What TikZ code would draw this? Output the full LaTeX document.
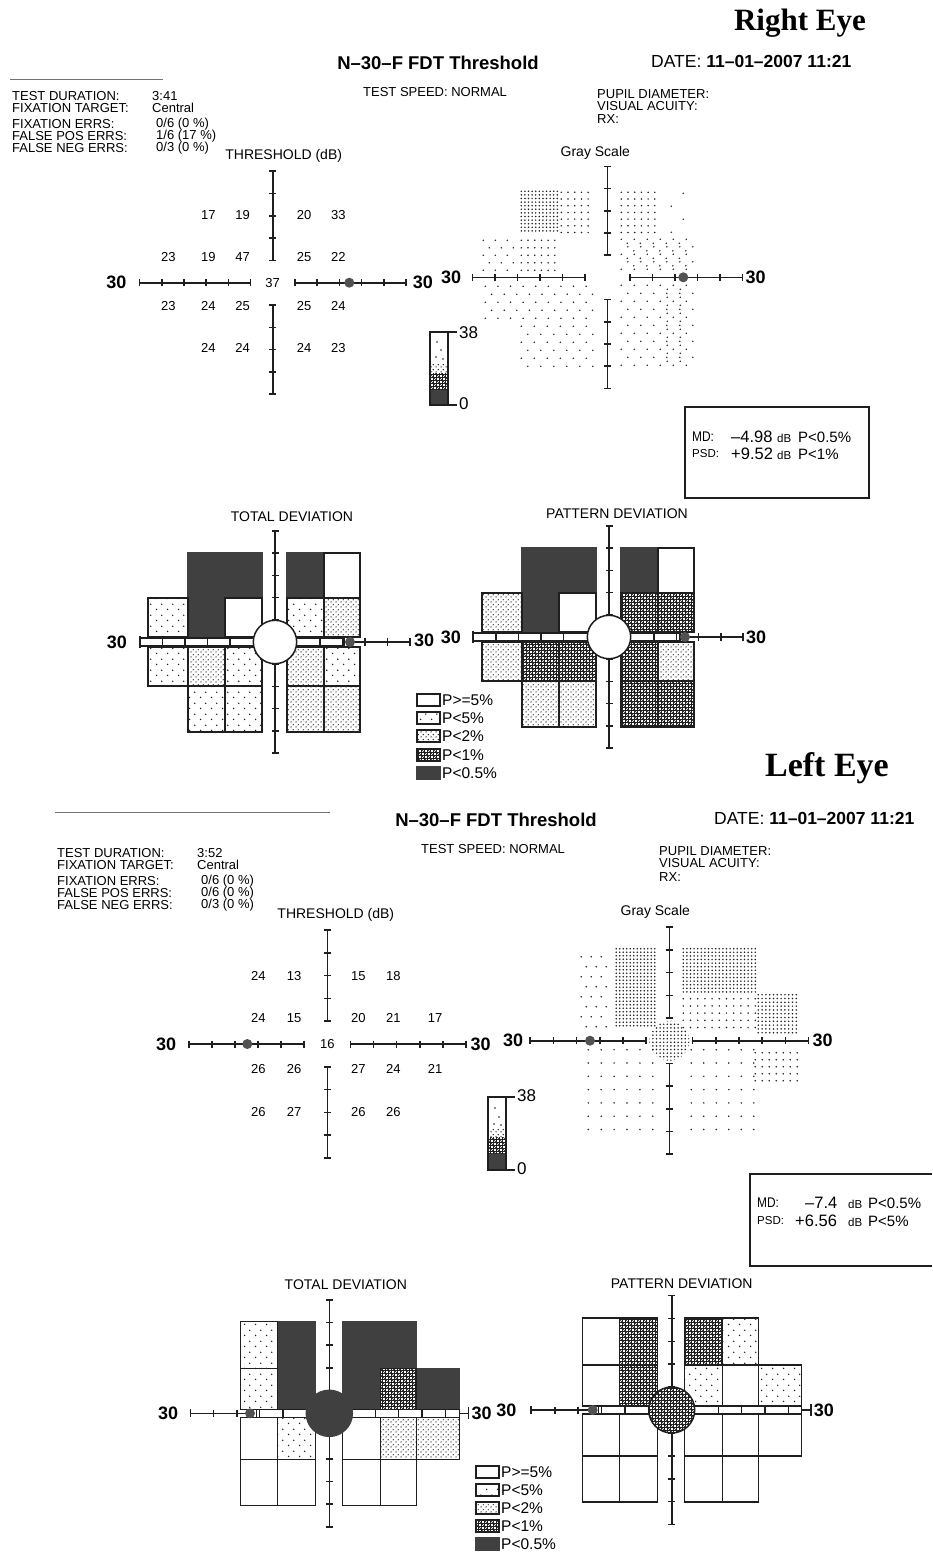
\documentclass[tikz,border=0pt]{standalone}
\usepackage{fontspec}
\setmainfont{Liberation Sans}
\newfontfamily\eyefont{Liberation Serif}
\newfontfamily\condfont[FakeStretch=0.85]{Liberation Sans}
\usetikzlibrary{patterns}

\definecolor{ink}{gray}{0.12}
\definecolor{darkcell}{gray}{0.25}
\definecolor{spotgray}{gray}{0.32}
\definecolor{rulegray}{gray}{0.45}

% patterns of the probability maps
\pgfdeclarepatternformonly{pfive}{\pgfqpoint{0pt}{0pt}}{\pgfqpoint{11pt}{11pt}}{\pgfqpoint{11pt}{11pt}}{%
  \pgfpathcircle{\pgfqpoint{2.75pt}{2.75pt}}{0.85pt}%
  \pgfpathcircle{\pgfqpoint{8.25pt}{8.25pt}}{0.85pt}%
  \pgfusepath{fill}}
\pgfdeclarepatternformonly{ptwo}{\pgfqpoint{0pt}{0pt}}{\pgfqpoint{5pt}{5pt}}{\pgfqpoint{5pt}{5pt}}{%
  \pgfpathcircle{\pgfqpoint{1.25pt}{1.25pt}}{0.8pt}%
  \pgfpathcircle{\pgfqpoint{3.75pt}{3.75pt}}{0.8pt}%
  \pgfusepath{fill}}
\pgfdeclarepatternformonly{pone}{\pgfqpoint{-0.5pt}{-0.5pt}}{\pgfqpoint{6.5pt}{6.5pt}}{\pgfqpoint{6pt}{6pt}}{%
  \pgfsetlinewidth{0.6pt}%
  \pgfpathmoveto{\pgfqpoint{0pt}{1.5pt}}\pgfpathlineto{\pgfqpoint{6pt}{1.5pt}}%
  \pgfpathmoveto{\pgfqpoint{0pt}{4.5pt}}\pgfpathlineto{\pgfqpoint{6pt}{4.5pt}}%
  \pgfpathmoveto{\pgfqpoint{1.5pt}{0pt}}\pgfpathlineto{\pgfqpoint{1.5pt}{6pt}}%
  \pgfpathmoveto{\pgfqpoint{4.5pt}{0pt}}\pgfpathlineto{\pgfqpoint{4.5pt}{6pt}}%
  \pgfpathmoveto{\pgfqpoint{0pt}{6pt}}\pgfpathlineto{\pgfqpoint{6pt}{0pt}}%
  \pgfusepath{stroke}}

% axes cut open round the centre: #1 horizontal step, #2 vertical step
\newcommand{\splitaxes}[2]{%
  \draw[axis] (-6*#1,0) -- (-#1,0) (#1,0) -- (6*#1,0)
    (0,-5*#2) -- (0,-#2) (0,#2) -- (0,5*#2);
  \foreach \k in {1,...,6}{\draw[axis] (-\k*#1,-3.5) -- (-\k*#1,3.5) (\k*#1,-3.5) -- (\k*#1,3.5);}
  \foreach \k in {1,...,5}{\draw[axis] (-3.5,-\k*#2) -- (3.5,-\k*#2) (-3.5,\k*#2) -- (3.5,\k*#2);}}

% full vertical axis of the deviation maps: #1 step
\newcommand{\devaxis}[1]{%
  \draw[axis] (0,-5*#1) -- (0,5*#1);
  \foreach \k in {-5,...,5}{\draw[axis] (-3.5,\k*#1) -- (3.5,\k*#1);}}

% grey scale dots: x0, y0, columns-1, rows-1, dx, dy
\newcommand{\dotgrid}[6]{%
  \foreach \i in {0,...,#3}{\foreach \j in {0,...,#4}{%
    \fill[ink] ({#1+\i*#5},{#2+\j*#6}) circle (0.85);}}}
\newcommand{\dotstag}[6]{%
  \foreach \i in {0,...,#3}{\foreach \j in {0,...,#4}{%
    \pgfmathsetmacro{\sx}{#1+\i*#5+mod(\j,2)*#5/2}%
    \fill[ink] (\sx,{#2+\j*#6}) circle (0.85);}}}

\begin{document}
\begin{tikzpicture}[x=1pt, y=-1pt,
    hdr/.style={anchor=west, inner sep=0pt, font=\fontsize{13}{13}\selectfont},
    bigttl/.style={inner sep=0pt, font=\bfseries\fontsize{18.5}{18.5}\selectfont},
    datettl/.style={anchor=west, inner sep=0pt, font=\fontsize{17.5}{17.5}\selectfont},
    mapttl/.style={inner sep=0pt, font=\fontsize{14}{14}\selectfont},
    num/.style={inner sep=0pt, font=\fontsize{13}{13}\selectfont},
    edge30/.style={inner sep=0pt, font=\bfseries\fontsize{18}{18}\selectfont},
    eyelbl/.style={anchor=east, inner sep=0pt, font=\eyefont\bfseries\fontsize{31}{31}\selectfont},
    axis/.style={draw=ink, line width=1.6pt},
    band/.style={draw=ink, line width=1.1pt, fill=white},
    spot/.style={fill=spotgray},
    cellw/.style={draw=ink, line width=1.5pt, fill=white},
    cellp5/.style={draw=ink, line width=1.5pt, pattern=pfive, pattern color=ink},
    cellp2/.style={draw=ink, line width=1.5pt, pattern=ptwo, pattern color=ink},
    cellp1/.style={draw=ink, line width=1.5pt, pattern=pone, pattern color=ink},
    celld/.style={draw=darkcell, line width=1.5pt, fill=darkcell},
    legtxt/.style={anchor=west, inner sep=0pt, font=\fontsize{15.5}{15.5}\selectfont},
    mdlbl/.style={anchor=west, inner sep=0pt, font=\condfont\fontsize{14}{14}\selectfont},
    mdtxt/.style={anchor=west, inner sep=0pt, font=\fontsize{15}{15}\selectfont},
    mdbig/.style={anchor=west, inner sep=0pt, font=\fontsize{16.5}{16.5}\selectfont},
    mdsmall/.style={anchor=west, inner sep=0pt, font=\fontsize{11.5}{11.5}\selectfont},
    scaletxt/.style={anchor=west, inner sep=0pt, font=\fontsize{17}{17}\selectfont}
  ]

  \fill[white] (0,0) rectangle (932,1558);
  \useasboundingbox (0,0) rectangle (932,1558);

  % ===================== RIGHT EYE =====================
  \node[eyelbl] (reEye) at (866,23) {Right Eye};

  % --- header ---
  \draw[rulegray, line width=1pt] (10,79) -- (163,79);
  \node[hdr] (reDur) at (12,96) {TEST DURATION:};
  \node[hdr] (reDurV) at (152,96) {3:41};
  \node[hdr] (reFix) at (12,108) {FIXATION TARGET:};
  \node[hdr] (reFixV) at (152,108) {Central};
  \node[hdr] (reFe) at (12,124) {FIXATION ERRS:};
  \node[hdr] (reFeV) at (156,124) {0/6 (0 \%)};
  \node[hdr] (reFp) at (12,136) {FALSE POS ERRS:};
  \node[hdr] (reFpV) at (156,136) {1/6 (17 \%)};
  \node[hdr] (reFn) at (12,148) {FALSE NEG ERRS:};
  \node[hdr] (reFnV) at (156,148) {0/3 (0 \%)};
  \node[bigttl] (reTest) at (438,63) {N–30–F FDT Threshold};
  \node[hdr] (reSpeed) at (363,92) {TEST SPEED: NORMAL};
  \node[datettl] (reDate) at (651,61) {DATE: \textbf{11–01–2007 11:21}};
  \node[hdr] (rePupil) at (597,94) {PUPIL DIAMETER:};
  \node[hdr] (reAcuity) at (597,106) {VISUAL ACUITY:};
  \node[hdr] (reRx) at (597,119) {RX:};

  % --- threshold ---
  \begin{scope}[shift={(272.7,282.7)}]
    \node[mapttl] (reThrT) at (11,-126.5) {THRESHOLD (dB)};
    \splitaxes{22.2}{22.3}
    \fill[spot] (76.6,0) circle (5);
    \node[edge30, anchor=east] (reThrL) at (-146,0) {30};
    \node[edge30, anchor=west] (reThrR) at (140,0) {30};
    \foreach \px/\py/\v [count=\n] in {-64.4/-67.7/17, -30/-67.7/19, 31.3/-67.7/20, 65.6/-67.7/33,
        -104.4/-26/23, -64.4/-26/19, -30/-26/47, 31.3/-26/25, 65.6/-26/22, 0/0/37,
        -104.4/23.3/23, -64.4/23.3/24, -30/23.3/25, 31.3/23.3/25, 65.6/23.3/24,
        -64.4/65.6/24, -30/65.6/24, 31.3/65.6/24, 65.6/65.6/23}
      \node[num] (reT\n) at (\px,\py) {\v};
  \end{scope}

  % --- grey scale ---
  \begin{scope}[shift={(607.3,277.3)}]
    \node[mapttl] (reGrayT) at (-12,-124) {Gray Scale};
    \dotgrid{-86}{-86}{10}{11}{3.6}{3.6}
    \dotgrid{-46}{-85}{4}{6}{6.7}{6.7}
    \dotstag{-124}{-37}{2}{4}{12}{7.5}
    \dotgrid{-86}{-37}{5}{4}{6.7}{7.5}
    \dotstag{-122}{9}{8}{4}{12.6}{8}
    \dotstag{-86}{49}{5}{5}{13}{8}
    \dotgrid{14}{-85}{5}{6}{6.7}{6.7}
    \foreach \px/\py in {76/-84, 64/-71, 76/-58, 64/-45}
      \fill[ink] (\px,\py) circle (0.85);
    \dotstag{14}{-38}{5}{4}{13}{7.5}
    \dotstag{20}{-34}{4}{3}{13}{7.5}
    \dotstag{14}{8}{5}{10}{13}{8}
    \dotgrid{60}{12}{1}{9}{13}{8}
    \splitaxes{22.5}{22.2}
    \fill[spot] (76,0) circle (5);
    \node[edge30, anchor=east] (reGrayL) at (-146,0) {30};
    \node[edge30, anchor=west] (reGrayR) at (138,0) {30};
  \end{scope}

  % --- grey scale bar ---
  \fill[darkcell] (430,389) rectangle (448,405);
  \fill[pattern=pone, pattern color=ink] (430,373) rectangle (448,389);
  \fill[pattern=ptwo, pattern color=ink] (430,364) rectangle (448,373);
  \foreach \px/\py in {437/342, 441/350, 436/357, 443/359}
    \fill[ink] (\px,\py) circle (0.85);
  \draw[ink, line width=1.4pt] (430,332) rectangle (448,405)
    (448,332) -- (457,332) (448,405) -- (457,405);
  \node[scaletxt] (reBarTop) at (459,333) {38};
  \node[scaletxt] (reBarBot) at (459,404) {0};

  % --- MD / PSD ---
  \draw[ink, line width=1.3pt] (685,407) rectangle (869,498);
  \node[mdlbl] (reMd) at (692,437) {MD:};
  \node[mdbig] (reMdV) at (731,437) {–4.98};
  \node[mdsmall] (reMdU) at (777,438) {dB};
  \node[mdtxt] (reMdP) at (798,437) {P<0.5\%};
  \node[mdsmall] (rePsd) at (692,454) {PSD:};
  \node[mdbig] (rePsdV) at (731,454) {+9.52};
  \node[mdsmall] (rePsdU) at (777,455) {dB};
  \node[mdtxt] (rePsdP) at (798,454) {P<1\%};

  % --- total deviation ---
  \begin{scope}[shift={(275,642)}]
    \node[mapttl] (reTotT) at (17,-125.5) {TOTAL DEVIATION};
    \devaxis{22.2}
    \draw[celld] (-87,-89) rectangle (-13,-44);
    \draw[celld] (-87,-44) rectangle (-50,-5);
    \draw[celld] (12,-89) rectangle (49,-44);
    \draw[cellw] (-50,-44) rectangle (-13,-5);
    \draw[cellw] (49,-89) rectangle (85,-44);
    \draw[cellp5] (-127,-44) rectangle (-87,-5);
    \draw[cellp5] (-127,5) rectangle (-87,44);
    \draw[cellp5] (-50,5) rectangle (-13,44);
    \draw[cellp5] (-87,44) rectangle (-50,90);
    \draw[cellp5] (-50,44) rectangle (-13,90);
    \draw[cellp5] (12,-44) rectangle (49,-5);
    \draw[cellp5] (49,5) rectangle (85,44);
    \draw[cellp2] (-87,5) rectangle (-50,44);
    \draw[cellp2] (49,-44) rectangle (85,-5);
    \draw[cellp2] (12,5) rectangle (49,44);
    \draw[cellp2] (12,44) rectangle (49,90);
    \draw[cellp2] (49,44) rectangle (85,90);
    % axis band
    \draw[band] (-135,-4) rectangle (-18,4);
    \draw[band] (18,-4) rectangle (69,4);
    \draw[axis] (71,0) -- (135,0);
    \foreach \x in {-112.5,-90,-67.5,-45,45,67.5,90,112.5}
      \draw[axis, line width=1.1pt] (\x,-4) -- (\x,4);
    \draw[axis] (-135,-6) -- (-135,6) (135,-4) -- (135,4);
    \draw[ink, line width=1.5pt, fill=white] (0,0) circle (21.7);
    \fill[spot] (75,0) circle (5);
    \node[edge30, anchor=east] (reTotL) at (-148,0) {30};
    \node[edge30, anchor=west] (reTotR) at (139,-2) {30};
  \end{scope}

  % --- pattern deviation ---
  \begin{scope}[shift={(609,637)}]
    \node[mapttl] (rePatT) at (8,-123.5) {PATTERN DEVIATION};
    \devaxis{22.2}
    \draw[celld] (-87,-89) rectangle (-13,-44);
    \draw[celld] (-87,-44) rectangle (-50,-5);
    \draw[celld] (12,-89) rectangle (49,-44);
    \draw[cellw] (-50,-44) rectangle (-13,-5);
    \draw[cellw] (49,-89) rectangle (85,-44);
    \draw[cellp2] (-127,-44) rectangle (-87,-5);
    \draw[cellp2] (-127,5) rectangle (-87,44);
    \draw[cellp2] (-87,44) rectangle (-50,90);
    \draw[cellp2] (-50,44) rectangle (-13,90);
    \draw[cellp2] (49,5) rectangle (85,44);
    \draw[cellp1] (-87,5) rectangle (-50,44);
    \draw[cellp1] (-50,5) rectangle (-13,44);
    \draw[cellp1] (12,-44) rectangle (49,-5);
    \draw[cellp1] (49,-44) rectangle (85,-5);
    \draw[cellp1] (12,5) rectangle (49,44);
    \draw[cellp1] (12,44) rectangle (49,90);
    \draw[cellp1] (49,44) rectangle (85,90);
    % axis band
    \draw[band] (-136,-4) rectangle (-18,4);
    \draw[band] (18,-4) rectangle (71,4);
    \draw[axis] (73,0) -- (134,0);
    \foreach \x in {-113,-90.5,-68,-45.5,45,67.5,89.5,112}
      \draw[axis, line width=1.1pt] (\x,-4) -- (\x,4);
    \draw[axis] (-136,-6) -- (-136,6) (134,-4) -- (134,4);
    \draw[ink, line width=1.5pt, fill=white] (0,0) circle (21.7);
    \fill[spot] (76,0) circle (5);
    \node[edge30, anchor=east] (rePatL) at (-148,0) {30};
    \node[edge30, anchor=west] (rePatR) at (137,0) {30};
  \end{scope}

  % --- legend ---
  \draw[cellw, line width=1.1pt] (417,694) rectangle (440,706);
  \draw[cellp5, line width=1.1pt] (417,712) rectangle (440,724);
  \draw[cellp2, line width=1.1pt] (417,730) rectangle (440,742);
  \draw[cellp1, line width=1.1pt] (417,749) rectangle (440,761);
  \draw[celld, line width=1.1pt] (417,767) rectangle (440,779);
  \node[legtxt] (reLegA) at (442,700) {P>=5\%};
  \node[legtxt] (reLegB) at (442,718) {P<5\%};
  \node[legtxt] (reLegC) at (442,736) {P<2\%};
  \node[legtxt] (reLegD) at (442,755) {P<1\%};
  \node[legtxt] (reLegE) at (442,773) {P<0.5\%};

  % ===================== LEFT EYE =====================
  \node[eyelbl, font=\eyefont\bfseries\fontsize{34}{34}\selectfont] (leEye) at (889,768) {Left Eye};

  % --- header ---
  \draw[rulegray, line width=1pt] (55,812) -- (330,812);
  \node[hdr] (leDur) at (57,853) {TEST DURATION:};
  \node[hdr] (leDurV) at (197,853) {3:52};
  \node[hdr] (leFix) at (57,865) {FIXATION TARGET:};
  \node[hdr] (leFixV) at (197,865) {Central};
  \node[hdr] (leFe) at (57,881) {FIXATION ERRS:};
  \node[hdr] (leFeV) at (201,881) {0/6 (0 \%)};
  \node[hdr] (leFp) at (57,893) {FALSE POS ERRS:};
  \node[hdr] (leFpV) at (201,893) {0/6 (0 \%)};
  \node[hdr] (leFn) at (57,905) {FALSE NEG ERRS:};
  \node[hdr] (leFnV) at (201,905) {0/3 (0 \%)};
  \node[bigttl] (leTest) at (496,820) {N–30–F FDT Threshold};
  \node[hdr] (leSpeed) at (421,849) {TEST SPEED: NORMAL};
  \node[datettl] (leDate) at (714,818) {DATE: \textbf{11–01–2007 11:21}};
  \node[hdr] (lePupil) at (659,851) {PUPIL DIAMETER:};
  \node[hdr] (leAcuity) at (659,863) {VISUAL ACUITY:};
  \node[hdr] (leRx) at (659,877) {RX:};

  % --- threshold ---
  \begin{scope}[shift={(327.3,1044)}]
    \node[mapttl] (leThrT) at (8.5,-129) {THRESHOLD (dB)};
    \splitaxes{23.1}{22.8}
    \fill[spot] (-80,0) circle (5);
    \node[edge30, anchor=east] (leThrL) at (-151,0) {30};
    \node[edge30, anchor=west] (leThrR) at (143,0) {30};
    \foreach \px/\py/\v [count=\n] in {-69/-68/24, -33.3/-68/13, 31/-68/15, 66/-68/18,
        -69/-25.7/24, -33.3/-25.7/15, 31/-25.7/20, 66/-25.7/21, 107.7/-25.7/17, 0/0/16,
        -69/25.3/26, -33.3/25.3/26, 31/25.3/27, 66/25.3/24, 107.7/25.3/21,
        -69/67.7/26, -33.3/67.7/27, 31/67.7/26, 66/67.7/26}
      \node[num] (leT\n) at (\px,\py) {\v};
  \end{scope}

  % --- grey scale ---
  \begin{scope}[shift={(669.3,1040.7)}]
    \node[mapttl] (leGrayT) at (-14,-129) {Gray Scale};
    \dotstag{-88}{-84}{2}{7}{10}{10}
    \dotgrid{-53}{-92}{11}{22}{3.5}{3.5}
    \begin{scope}
      \clip (0,0) circle (20);
      \dotgrid{-20}{-20}{11}{11}{3.6}{3.6}
    \end{scope}
    \dotgrid{14}{-92}{20}{12}{3.6}{3.6}
    \dotgrid{14}{-42}{10}{4}{7.2}{7.2}
    \dotgrid{89}{-46}{10}{10}{3.8}{3.8}
    \dotgrid{86}{12}{6}{4}{7}{7}
    \dotgrid{22}{9}{5}{6}{12.5}{13.3}
    \dotgrid{-81}{9}{5}{6}{12.9}{13.3}
    \splitaxes{23.2}{22.7}
    \fill[spot] (-79.3,0) circle (5);
    \node[edge30, anchor=east] (leGrayL) at (-146,0) {30};
    \node[edge30, anchor=west] (leGrayR) at (143,0) {30};
  \end{scope}

  % --- grey scale bar ---
  \fill[darkcell] (488,1153) rectangle (506,1170);
  \fill[pattern=pone, pattern color=ink] (488,1137) rectangle (506,1153);
  \fill[pattern=ptwo, pattern color=ink] (488,1128) rectangle (506,1137);
  \foreach \px/\py in {495/1108, 499/1117, 494/1124, 501/1125}
    \fill[ink] (\px,\py) circle (0.85);
  \draw[ink, line width=1.4pt] (488,1097) rectangle (506,1170)
    (506,1097) -- (515,1097) (506,1170) -- (515,1170);
  \node[scaletxt] (leBarTop) at (517,1096) {38};
  \node[scaletxt] (leBarBot) at (517,1169) {0};

  % --- MD / PSD ---
  \draw[ink, line width=1.3pt] (932,1174) -- (750,1174) -- (750,1266) -- (932,1266);
  \node[mdlbl] (leMd) at (757,1203) {MD:};
  \node[mdbig] (leMdV) at (805,1203) {–7.4};
  \node[mdsmall] (leMdU) at (848,1204) {dB};
  \node[mdtxt] (leMdP) at (868,1203) {P<0.5\%};
  \node[mdsmall] (lePsd) at (757,1221) {PSD:};
  \node[mdbig] (lePsdV) at (795,1221) {+6.56};
  \node[mdsmall] (lePsdU) at (848,1222) {dB};
  \node[mdtxt] (lePsdP) at (868,1221) {P<5\%};

  % --- total deviation ---
  \begin{scope}[shift={(329.3,1413.3)}]
    \node[mapttl] (leTotT) at (16.5,-128.3) {TOTAL DEVIATION};
    \devaxis{22.7}
    \draw[celld] (-52,-92) rectangle (-14,-4);
    \draw[celld] (13,-92) rectangle (87,-45);
    \draw[celld] (13,-45) rectangle (51,-4);
    \draw[celld] (87,-45) rectangle (130,-4);
    \draw[cellp5] (-89,-92) rectangle (-52,-45);
    \draw[cellp5] (-89,-45) rectangle (-52,-4);
    \draw[cellp5] (-52,4) rectangle (-14,46);
    \draw[cellp1] (51,-45) rectangle (87,-4);
    \draw[cellp2] (51,4) rectangle (87,46);
    \draw[cellp2] (87,4) rectangle (130,46);
    \draw[cellw] (-89,4) rectangle (-52,46);
    \draw[cellw] (-89,46) rectangle (-52,92);
    \draw[cellw] (-52,46) rectangle (-14,92);
    \draw[cellw] (13,4) rectangle (51,46);
    \draw[cellw] (13,46) rectangle (51,92);
    \draw[cellw] (51,46) rectangle (87,92);
    % axis band
    \draw[axis] (-139,0) -- (-84,0);
    \draw[band] (-73,-4) rectangle (-18,4);
    \draw[band] (18,-4) rectangle (130,4);
    \draw[axis] (130,0) -- (139,0);
    \foreach \x in {-69.5,-46.3,46.3,69.5,92.7,115.8}
      \draw[axis, line width=1.1pt] (\x,-4) -- (\x,4);
    \foreach \x in {-115.8,-92.6}
      \draw[axis] (\x,-3.5) -- (\x,3.5);
    \draw[axis] (-139,-4) -- (-139,4) (139,-6) -- (139,6);
    \draw[darkcell, line width=1.5pt, fill=darkcell] (0,0) circle (23);
    \fill[spot] (-79.3,0) circle (5);
    \node[edge30, anchor=east] (leTotL) at (-151,0) {30};
    \node[edge30, anchor=west] (leTotR) at (142,0) {30};
  \end{scope}

  % --- pattern deviation ---
  \begin{scope}[shift={(671.7,1410)}]
    \node[mapttl] (lePatT) at (10,-126.7) {PATTERN DEVIATION};
    \devaxis{22.9}
    \draw[cellp1] (-52,-92) rectangle (-14,-45);
    \draw[cellp1] (-52,-45) rectangle (-14,-4);
    \draw[cellp1] (13,-92) rectangle (51,-45);
    \draw[cellp5] (51,-92) rectangle (87,-45);
    \draw[cellp5] (13,-45) rectangle (51,-4);
    \draw[cellp5] (87,-45) rectangle (130,-4);
    \draw[cellw] (-89,-92) rectangle (-52,-45);
    \draw[cellw] (-89,-45) rectangle (-52,-4);
    \draw[cellw] (51,-45) rectangle (87,-4);
    \draw[cellw] (-89,4) rectangle (-52,46);
    \draw[cellw] (-52,4) rectangle (-14,46);
    \draw[cellw] (13,4) rectangle (51,46);
    \draw[cellw] (51,4) rectangle (87,46);
    \draw[cellw] (87,4) rectangle (130,46);
    \draw[cellw] (-89,46) rectangle (-52,92);
    \draw[cellw] (-52,46) rectangle (-14,92);
    \draw[cellw] (13,46) rectangle (51,92);
    \draw[cellw] (51,46) rectangle (87,92);
    % axis band
    \draw[axis] (-141,0) -- (-84,0);
    \draw[band] (-73,-4) rectangle (-18,4);
    \draw[band] (18,-4) rectangle (130,4);
    \draw[axis] (130,0) -- (139,0);
    \foreach \x in {-70,-46.7,46.7,70,93.3,116.7}
      \draw[axis, line width=1.1pt] (\x,-4) -- (\x,4);
    \foreach \x in {-117,-94}
      \draw[axis] (\x,-3.5) -- (\x,3.5);
    \draw[axis] (-141,-4) -- (-141,4) (139,-6) -- (139,6);
    \draw[ink, line width=1.5pt, fill=white] (0,0) circle (23);
    \fill[pattern=pone, pattern color=ink] (0,0) circle (23);
    \fill[spot] (-79,0) circle (5);
    \node[edge30, anchor=east] (lePatL) at (-155,0) {30};
    \node[edge30, anchor=west] (lePatR) at (142,0) {30};
  \end{scope}

  % --- legend ---
  \draw[cellw, line width=1.1pt] (476,1466) rectangle (499,1478);
  \draw[cellp5, line width=1.1pt] (476,1484) rectangle (499,1496);
  \draw[cellp2, line width=1.1pt] (476,1502) rectangle (499,1514);
  \draw[cellp1, line width=1.1pt] (476,1520) rectangle (499,1532);
  \draw[celld, line width=1.1pt] (476,1538) rectangle (499,1550);
  \node[legtxt] (leLegA) at (501,1472) {P>=5\%};
  \node[legtxt] (leLegB) at (501,1490) {P<5\%};
  \node[legtxt] (leLegC) at (501,1508) {P<2\%};
  \node[legtxt] (leLegD) at (501,1526) {P<1\%};
  \node[legtxt] (leLegE) at (501,1544) {P<0.5\%};

\end{tikzpicture}
\end{document}
